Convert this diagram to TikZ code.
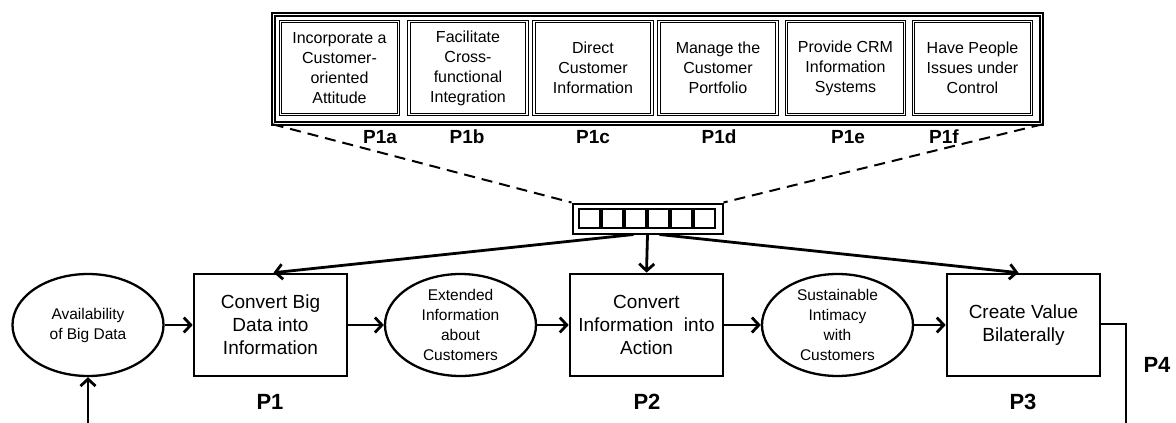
\documentclass[tikz,border=0pt]{standalone}
\usepackage{fontspec}
\setmainfont{Liberation Sans}
\usetikzlibrary{shapes.geometric,arrows.meta}
\begin{document}
\begin{tikzpicture}[x=1pt,y=-1pt,
  proc/.style={draw, line width=2.6pt, minimum width=153pt, minimum height=102pt, inner sep=0pt, align=center, font=\fontsize{19}{23}\selectfont},
  oval/.style={draw, ellipse, line width=2.3pt, minimum width=151pt, minimum height=102pt, inner sep=0pt, align=center, font=\fontsize{15.5}{20}\selectfont},
  sub/.style={draw, double, line width=1.4pt, double distance=1.1pt, minimum width=118pt, minimum height=93pt, inner sep=0pt, align=center, font=\fontsize{16}{20}\selectfont},
  sq/.style={draw, line width=1.7pt, minimum width=21pt, minimum height=19pt, inner sep=0pt},
  plab/.style={font=\fontsize{22}{22}\selectfont\bfseries},
  slab/.style={font=\fontsize{19}{19}\selectfont\bfseries},
  arr/.style={line width=2.8pt, -{Straight Barb[length=7pt,width=15pt]}},
  conn/.style={line width=2.8pt},
  dsh/.style={line width=2pt, dash pattern=on 11pt off 7pt},
  ]
\useasboundingbox (0,0) rectangle (1176,423);

% top panel
\node[draw, double, line width=1.6pt, double distance=1pt, minimum width=768pt, minimum height=109pt, inner sep=0pt] (panel) at (657.5,69) {};
\node[sub] (a) at (339.5,68) {Incorporate a\\Customer-\\oriented\\Attitude};
\node[sub] (b) at (468,68) {Facilitate\\Cross-\\functional\\Integration};
\node[sub] (c) at (593,68) {Direct\\Customer\\Information};
\node[sub] (d) at (718,68) {Manage the\\Customer\\Portfolio};
\node[sub] (e) at (845.5,68) {Provide CRM\\Information\\Systems};
\node[sub] (f) at (972.5,68) {Have People\\Issues under\\Control};
\node[slab] (la) at (380,137) {P1a};
\node[slab] (lb) at (467,137) {P1b};
\node[slab] (lc) at (593,137) {P1c};
\node[slab] (ld) at (719,137) {P1d};
\node[slab] (le) at (848,137) {P1e};
\node[slab] (lf) at (944,137) {P1f};

% small box
\node[draw, line width=2pt, minimum width=150pt, minimum height=30pt, inner sep=0pt] (small) at (647.5,218.5) {};
\foreach \i/\x in {1/589.5,2/612.5,3/635.5,4/658.5,5/681.5,6/704.5}
  \node[sq] (s\i) at (\x,218.5) {};

\draw[dsh] (panel.south west) -- (small.north west);
\draw[dsh] (panel.south east) -- (small.north east);

% main row
\node[oval] (e1) at (88,325) {Availability\\of Big Data};
\node[proc] (p1) at (270.5,325) {Convert Big\\Data into\\Information};
\node[oval] (e2) at (460.5,325) {Extended\\Information\\about\\Customers};
\node[proc] (p2) at (646.5,325) {Convert\\Information~~into\\Action};
\node[oval] (e3) at (837.5,325) {Sustainable\\Intimacy\\with\\Customers};
\node[proc] (p3) at (1023.5,325) {Create Value\\Bilaterally};

\node[plab] (l1) at (270,402) {P1};
\node[plab] (l2) at (647,402) {P2};
\node[plab] (l3) at (1023,402) {P3};
\node[plab] (l4) at (1157,365) {P4};

\draw[arr] (e1) -- (p1);
\draw[arr] (p1) -- (e2);
\draw[arr] (e2) -- (p2);
\draw[arr] (p2) -- (e3);
\draw[arr] (e3) -- (p3);

\draw[arr] ([xshift=-14pt]small.south) -- ([xshift=3pt]p1.north);
\draw[arr] (small.south) -- (p2.north);
\draw[arr] ([xshift=12pt]small.south) -- ([xshift=-5pt]p3.north);

\coordinate (fb) at (88,423);
\coordinate (c4) at (1126,324);
\coordinate (c5) at (1126,423);
\draw[conn] (p3.east |- c4) -- (c4) -- (c5);
\draw[arr] (fb) -- (e1.south);
\end{tikzpicture}
\end{document}
